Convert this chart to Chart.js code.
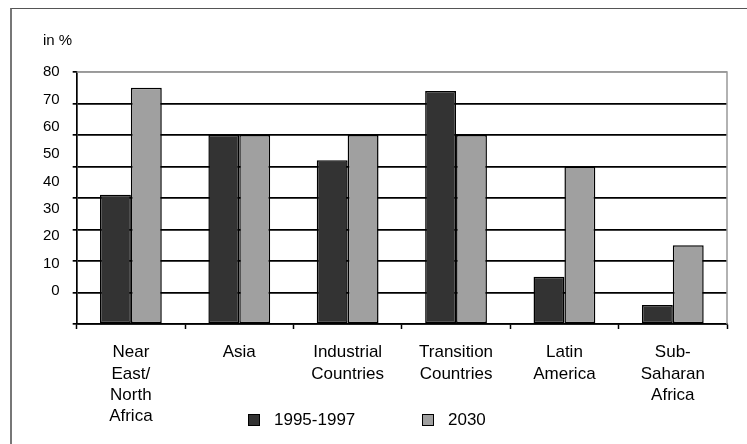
<!DOCTYPE html>
<html lang="en">
<head>
    <meta charset="UTF-8">
    <title>in % - 1995-1997 and 2030</title>
    <style>
        body { margin: 0; background: #fff; font-family: "Liberation Sans", Arial, sans-serif; }
        #wrap { position: relative; width: 747px; height: 444px; overflow: hidden; }
        #frame { position: absolute; left: 10px; top: 8px; width: 760px; height: 460px;
                 border-top: 1px solid #555; border-left: 2px solid #777; }
        #unit { position: absolute; left: 43px; top: 31px; font-size: 15px; color: #000; }
        .legend-item { position: absolute; top: 410px; font-size: 17px; color: #000; line-height: 20px; }
        .legend-item span { display: inline-block; width: 10px; height: 10px; border: 1px solid #000;
                            vertical-align: -1px; margin-right: 14px; }
        canvas { position: absolute; left: 0; top: 0; }
    </style>
</head>
<body>
<div id="wrap">
    <div id="frame"></div>
    <canvas id="myChart" width="747" height="444"></canvas>
    <div id="unit">in %</div>
    <div id="legend"></div>
</div>

<script src="https://cdn.jsdelivr.net/npm/chart.js@4/dist/chart.umd.min.js"></script>
<script>
    var regions = [
        ['Near', 'East/', 'North', 'Africa'],
        'Asia',
        ['Industrial', 'Countries'],
        ['Transition', 'Countries'],
        ['Latin', 'America'],
        ['Sub-', 'Saharan', 'Africa']
    ];
    var seriesNames = ['1995-1997', '2030'];
    var values1995 = [41, 60, 52, 74, 15, 6];
    var values2030 = [75, 60, 60, 60, 50, 25];
    var tickLabels = [0, 10, 20, 30, 40, 50, 60, 70, 80];

    var fills = ['#333333', '#a0a0a0'];

    Chart.defaults.font.family = '"Liberation Sans", Arial, sans-serif';
    Chart.defaults.font.size = 17;
    Chart.defaults.color = '#000';

    // gray frame on top and right of the plot
    var plotFrame = {
        id: 'plotFrame',
        afterDraw: function (chart) {
            var a = chart.chartArea, ctx = chart.ctx;
            ctx.save();
            ctx.strokeStyle = '#999';
            ctx.lineWidth = 1.5;
            ctx.beginPath();
            ctx.moveTo(a.left, a.top);
            ctx.lineTo(a.right, a.top);
            ctx.lineTo(a.right, a.bottom);
            ctx.stroke();
            ctx.restore();
        }
    };

    var ctx = document.getElementById('myChart').getContext('2d');
    var chart = new Chart(ctx, {
        type: 'bar',
        data: {
            labels: regions,
            datasets: [
                { label: seriesNames[0], data: values1995, backgroundColor: fills[0] },
                { label: seriesNames[1], data: values2030, backgroundColor: fills[1] }
            ]
        },
        options: {
            responsive: false,
            animation: false,
            layout: { padding: { left: 38, right: 20, top: 72, bottom: 4 } },
            datasets: {
                bar: {
                    borderColor: '#000',
                    borderWidth: 1.5,
                    borderSkipped: false,
                    categoryPercentage: 0.57,
                    barPercentage: 1.0
                }
            },
            plugins: {
                legend: { display: false },
                tooltip: { enabled: false }
            },
            scales: {
                x: {
                    grid: {
                        display: true,
                        drawOnChartArea: false,
                        tickLength: 5,
                        tickColor: '#000',
                        tickWidth: 1.5
                    },
                    border: { color: '#000', width: 1.5 },
                    ticks: { padding: 13, maxRotation: 0, font: { lineHeight: 1.25 } }
                },
                y: {
                    position: 'left',
                    weight: 0,
                    min: 0,
                    max: 80,
                    ticks: { stepSize: 10, display: false },
                    grid: {
                        color: function (c) { return c.tick && c.tick.value === 80 ? '#999' : '#000'; },
                        lineWidth: 1.7,
                        tickLength: 4,
                        tickColor: '#000'
                    },
                    border: { color: '#000', width: 1.7 }
                },
                yLabels: {
                    position: 'left',
                    weight: 1,
                    min: -12,
                    max: 80,
                    afterBuildTicks: function (axis) {
                        axis.ticks = tickLabels.map(function (v) { return { value: v }; });
                    },
                    ticks: { padding: 5, font: { size: 15 } },
                    grid: { display: false },
                    border: { display: false }
                }
            }
        },
        plugins: [plotFrame]
    });

    // legend drawn below the chart, next to the category labels
    var legendLeft = [248, 422];
    var legend = document.getElementById('legend');
    chart.data.datasets.forEach(function (ds, i) {
        var item = document.createElement('div');
        item.className = 'legend-item';
        item.style.left = legendLeft[i] + 'px';
        item.innerHTML = '<span style="background:' + ds.backgroundColor + '"></span>' + ds.label;
        legend.appendChild(item);
    });
</script>
</body>
</html>
